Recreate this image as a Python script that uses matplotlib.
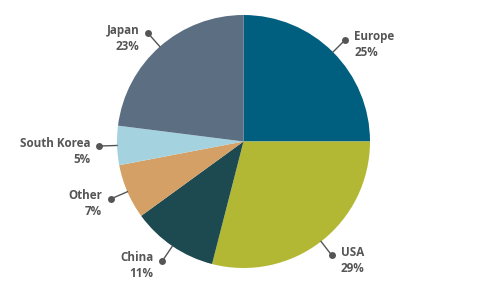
import numpy as np
import matplotlib
matplotlib.use("Agg")
import matplotlib.pyplot as plt

labels = ["Europe", "USA", "China", "Other", "South Korea", "Japan"]
values = [25, 29, 11, 7, 5, 23]
colors = ["#005f7f", "#b3b834", "#1d4a50", "#d4a066", "#a5d2df", "#5b6e82"]

W, H = 491, 302
fig = plt.figure(figsize=(W / 100, H / 100), dpi=100)
ax = fig.add_axes([0, 0, 1, 1])

cx, cy, R = 243.5, H - 141.5, 126.5
wedges, _ = ax.pie(values, colors=colors, startangle=90, counterclock=False,
                   center=(cx, cy), radius=R, frame=True,
                   wedgeprops=dict(linewidth=0))
ax.set_xlim(0, W)
ax.set_ylim(0, H)
ax.set_aspect("equal")
ax.axis("off")

grey = "#555555"
for w, lab, v in zip(wedges, labels, values):
    ang = np.deg2rad((w.theta1 + w.theta2) / 2)
    ex, ey = cx + R * np.cos(ang), cy + R * np.sin(ang)
    dx, dy = cx + 1.14 * R * np.cos(ang), cy + 1.14 * R * np.sin(ang)
    ax.plot([ex, dx], [ey, dy], color=grey, lw=1)
    ax.plot(dx, dy, "o", color=grey, ms=5, mec="none")
    right = np.cos(ang) > 0
    off = 9 if right else -9
    ax.text(dx + off, dy - 5, f"{lab}\n{v}%", ha="left" if right else "right",
            va="center", multialignment="left" if right else "right",
            color=grey, fontsize=8.4, fontweight="bold", family="Open Sans",
            linespacing=1.3)

fig.savefig("out.png", dpi=100)
